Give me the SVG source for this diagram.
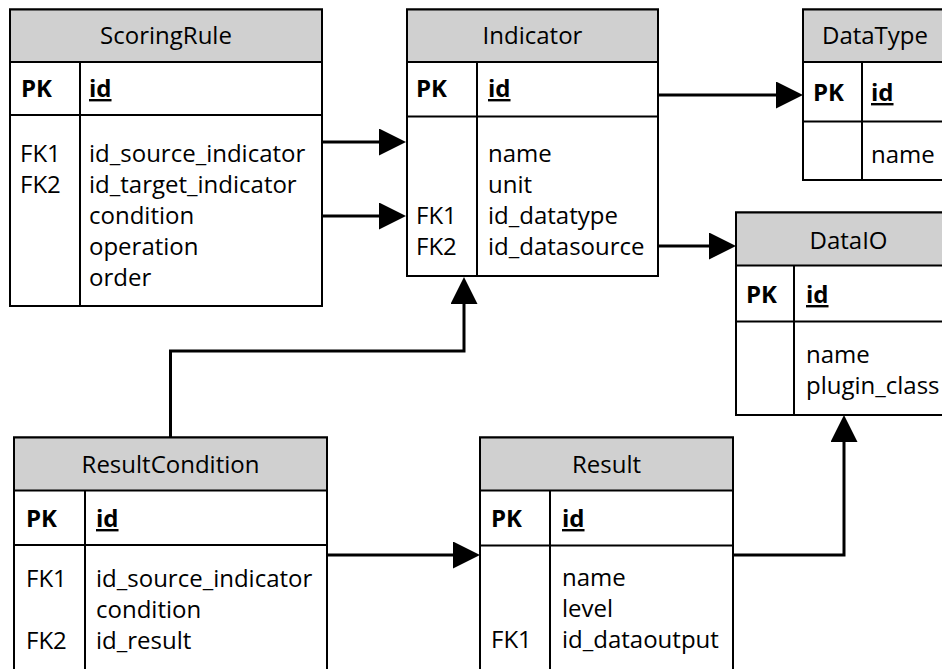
<svg xmlns="http://www.w3.org/2000/svg" width="942" height="669" viewBox="0 0 942 669">
  <style>
    text { font-family: "Open Sans", "Liberation Sans", sans-serif; font-size: 24px; fill: #000; }
    .title { text-anchor: middle; }
    .key { font-weight: bold; }
    .pkcol { font-weight: bold; text-decoration: underline; }
    .head { fill: #d0d0d0; stroke: #000; stroke-width: 2; }
    .body { fill: #fff; stroke: #000; stroke-width: 2; }
    .sep { stroke: #000; stroke-width: 2; fill: none; }
    .link { stroke: #000; stroke-width: 3; fill: none; marker-end: url(#arrow); }
  </style>
  <defs>
    <marker id="arrow" markerUnits="userSpaceOnUse" markerWidth="27" markerHeight="27" refX="17" refY="13.5" orient="auto">
      <path d="M0,0 L27,13.5 L0,27 Z" fill="#000"/>
    </marker>
  </defs>
  <rect width="942" height="669" fill="#fff"/>

  <!-- connectors -->
  <g id="connectors">
    <path class="link" d="M322,142 H396"/>
    <path class="link" d="M322,216 H396"/>
    <path class="link" d="M658,95 H793"/>
    <path class="link" d="M658,246 H726"/>
    <path class="link" d="M170.5,437.5 V351 H464 V287"/>
    <path class="link" d="M327,555 H470"/>
    <path class="link" d="M733,555 H844 V425"/>
  </g>

  <!-- ScoringRule -->
  <g id="ScoringRule">
    <rect class="body" x="10" y="9.5" width="312" height="296.5"/>
    <rect class="head" x="10" y="9.5" width="312" height="52.5"/>
    <line class="sep" x1="10" y1="115" x2="322" y2="115"/>
    <line class="sep" x1="80" y1="62" x2="80" y2="306"/>
    <text class="title" x="166" y="44">ScoringRule</text>
    <text class="key" x="21" y="97">PK</text>
    <text class="pkcol" x="89" y="97">id</text>
    <text x="20" y="162">FK1</text>
    <text x="20" y="193">FK2</text>
    <text x="89" y="162">id_source_indicator</text>
    <text x="89" y="193">id_target_indicator</text>
    <text x="89" y="224">condition</text>
    <text x="89" y="255">operation</text>
    <text x="89" y="286">order</text>
  </g>

  <!-- Indicator -->
  <g id="Indicator">
    <rect class="body" x="407" y="9.5" width="251" height="266.5"/>
    <rect class="head" x="407" y="9.5" width="251" height="52.5"/>
    <line class="sep" x1="407" y1="116.5" x2="658" y2="116.5"/>
    <line class="sep" x1="477" y1="62" x2="477" y2="276"/>
    <text class="title" x="532.5" y="44">Indicator</text>
    <text class="key" x="416" y="97">PK</text>
    <text class="pkcol" x="488" y="97">id</text>
    <text x="488" y="162">name</text>
    <text x="488" y="193">unit</text>
    <text x="416" y="224">FK1</text>
    <text x="488" y="224">id_datatype</text>
    <text x="416" y="255">FK2</text>
    <text x="488" y="255">id_datasource</text>
  </g>

  <!-- DataType -->
  <g id="DataType">
    <rect class="body" x="803" y="9.5" width="144" height="170.5"/>
    <rect class="head" x="803" y="9.5" width="144" height="52.5"/>
    <line class="sep" x1="803" y1="121.5" x2="947" y2="121.5"/>
    <line class="sep" x1="862" y1="62" x2="862" y2="180"/>
    <text class="title" x="875" y="44">DataType</text>
    <text class="key" x="813" y="101">PK</text>
    <text class="pkcol" x="871" y="101">id</text>
    <text x="871" y="163">name</text>
  </g>

  <!-- DataIO -->
  <g id="DataIO">
    <rect class="body" x="736" y="212.5" width="225" height="202.5"/>
    <rect class="head" x="736" y="212.5" width="225" height="53"/>
    <line class="sep" x1="736" y1="321.5" x2="961" y2="321.5"/>
    <line class="sep" x1="794" y1="265.5" x2="794" y2="415"/>
    <text class="title" x="848.5" y="249">DataIO</text>
    <text class="key" x="746" y="303">PK</text>
    <text class="pkcol" x="806" y="303">id</text>
    <text x="806" y="363">name</text>
    <text x="806" y="394">plugin_class</text>
  </g>

  <!-- ResultCondition -->
  <g id="ResultCondition">
    <rect class="body" x="14" y="437.5" width="313" height="260"/>
    <rect class="head" x="14" y="437.5" width="313" height="53"/>
    <line class="sep" x1="14" y1="545" x2="327" y2="545"/>
    <line class="sep" x1="85" y1="490.5" x2="85" y2="697.5"/>
    <text class="title" x="170.5" y="473">ResultCondition</text>
    <text class="key" x="26" y="527">PK</text>
    <text class="pkcol" x="96" y="527">id</text>
    <text x="26" y="587">FK1</text>
    <text x="96" y="587">id_source_indicator</text>
    <text x="96" y="618">condition</text>
    <text x="26" y="649">FK2</text>
    <text x="96" y="649">id_result</text>
  </g>

  <!-- Result -->
  <g id="Result">
    <rect class="body" x="480" y="437.5" width="253" height="260"/>
    <rect class="head" x="480" y="437.5" width="253" height="53"/>
    <line class="sep" x1="480" y1="545.5" x2="733" y2="545.5"/>
    <line class="sep" x1="550" y1="490.5" x2="550" y2="697.5"/>
    <text class="title" x="606.5" y="473">Result</text>
    <text class="key" x="491" y="527">PK</text>
    <text class="pkcol" x="562" y="527">id</text>
    <text x="562" y="586">name</text>
    <text x="562" y="617">level</text>
    <text x="491" y="648">FK1</text>
    <text x="562" y="648">id_dataoutput</text>
  </g>
</svg>
